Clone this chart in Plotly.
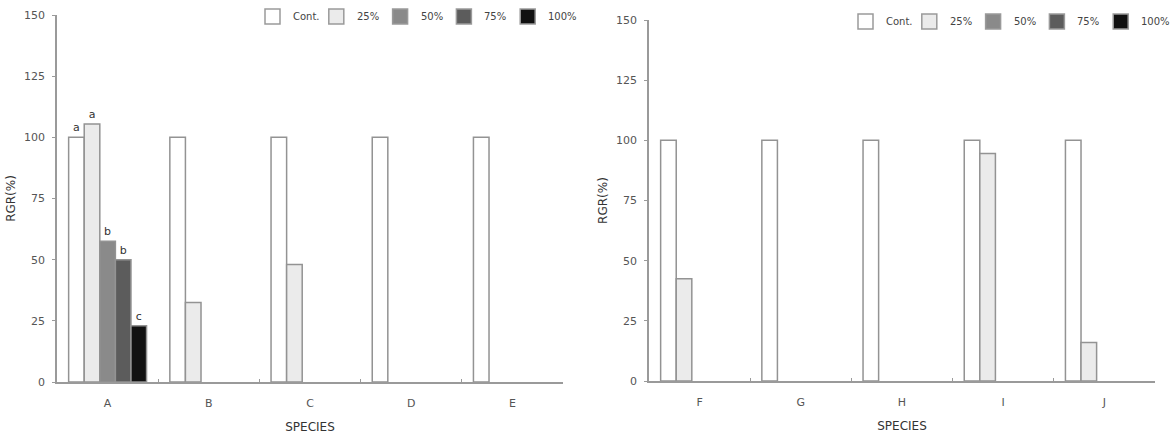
import plotly.graph_objects as go

species_left = ["A", "B", "C", "D", "E"]
species_right = ["F", "G", "H", "I", "J"]
treatments = ["Cont.", "25%", "50%", "75%", "100%"]

left_cont = [100, 100, 100, 100, 100]
left_25 = [105.5, 32.5, 48, None, None]
left_50 = [57.5, None, None, None, None]
left_75 = [50, None, None, None, None]
left_100 = [23, None, None, None, None]

right_cont = [100, 100, 100, 100, 100]
right_25 = [42.5, None, None, 94.5, 16]
right_50 = [None, None, None, None, None]
right_75 = [None, None, None, None, None]
right_100 = [None, None, None, None, None]

letters_cont = ["a", "", "", "", ""]
letters_25 = ["a", "", "", "", ""]
letters_50 = ["b", "", "", "", ""]
letters_75 = ["b", "", "", "", ""]
letters_100 = ["c", "", "", "", ""]

colors = ["#ffffff", "#ebebeb", "#8a8a8a", "#5c5c5c", "#111111"]
line_col = "#939393"
font_fam = "DejaVu Sans, Arial, sans-serif"
W, H = 1173, 436

fig = go.Figure()

left_vals = [left_cont, left_25, left_50, left_75, left_100]
right_vals = [right_cont, right_25, right_50, right_75, right_100]
letters = [letters_cont, letters_25, letters_50, letters_75, letters_100]

for i, t in enumerate(treatments):
    fig.add_trace(go.Bar(
        x=species_left, y=left_vals[i], name=t, xaxis="x", yaxis="y",
        marker=dict(color=colors[i], line=dict(color=line_col, width=1.5)),
        text=letters[i], textposition="outside", cliponaxis=False,
        constraintext="none",
        textfont=dict(family=font_fam, size=11, color="#333333"),
        showlegend=False,
    ))
for i, t in enumerate(treatments):
    fig.add_trace(go.Bar(
        x=species_right, y=right_vals[i], name=t, xaxis="x2", yaxis="y2",
        marker=dict(color=colors[i], line=dict(color=line_col, width=1.5)),
        showlegend=False,
    ))

# Legend keys (one row per panel), drawn in paper coordinates
shapes = []
annotations = []
for start_x, top_y in [(265, 9), (858, 14)]:
    for i, t in enumerate(treatments):
        x0 = start_x + i * 63.8
        shapes.append(dict(
            type="rect", xref="paper", yref="paper",
            x0=x0 / W, x1=(x0 + 15) / W, y0=1 - (top_y + 15) / H, y1=1 - top_y / H,
            fillcolor=colors[i], line=dict(color="#9a9a9a", width=1.5),
        ))
        annotations.append(dict(
            xref="paper", yref="paper", x=(x0 + 26) / W, y=1 - (top_y + 7.5) / H,
            xanchor="left", yanchor="middle", text=t, showarrow=False,
            font=dict(family=font_fam, size=10, color="#444444"),
        ))

axis_common = dict(
    showgrid=False, zeroline=False, showline=True, linecolor="#9a9a9a",
    linewidth=1.5, automargin=False,
    tickfont=dict(family=font_fam, size=11, color="#555555"),
)

xcommon = dict(ticks="inside", tickson="boundaries", ticklen=3, tickcolor="#9a9a9a",
               ticklabelstandoff=10,
               title=dict(text="SPECIES", font=dict(size=12, color="#333333"), standoff=14))
ycommon = dict(range=[0, 150], tickvals=[0, 25, 50, 75, 100, 125, 150],
               ticks="outside", ticklen=3, tickcolor="#9a9a9a", ticklabelstandoff=5,
               title=dict(text="RGR(%)", font=dict(size=12, color="#333333"), standoff=6))

fig.update_layout(
    width=W, height=H,
    margin=dict(l=0, r=0, t=0, b=0),
    paper_bgcolor="white", plot_bgcolor="white",
    barmode="group", bargap=0.23, bargroupgap=0,
    font=dict(family=font_fam, size=10, color="#333333"),
    showlegend=False,
    xaxis=dict(domain=[57/W, 563/W], anchor="y", **xcommon, **axis_common),
    yaxis=dict(domain=[54/H, 421/H], anchor="x", **ycommon, **axis_common),
    xaxis2=dict(domain=[649/W, 1155/W], anchor="y2", **xcommon, **axis_common),
    yaxis2=dict(domain=[55/H, 416/H], anchor="x2", **ycommon, **axis_common),
    shapes=shapes,
    annotations=annotations,
)

fig.write_html("out.html")
